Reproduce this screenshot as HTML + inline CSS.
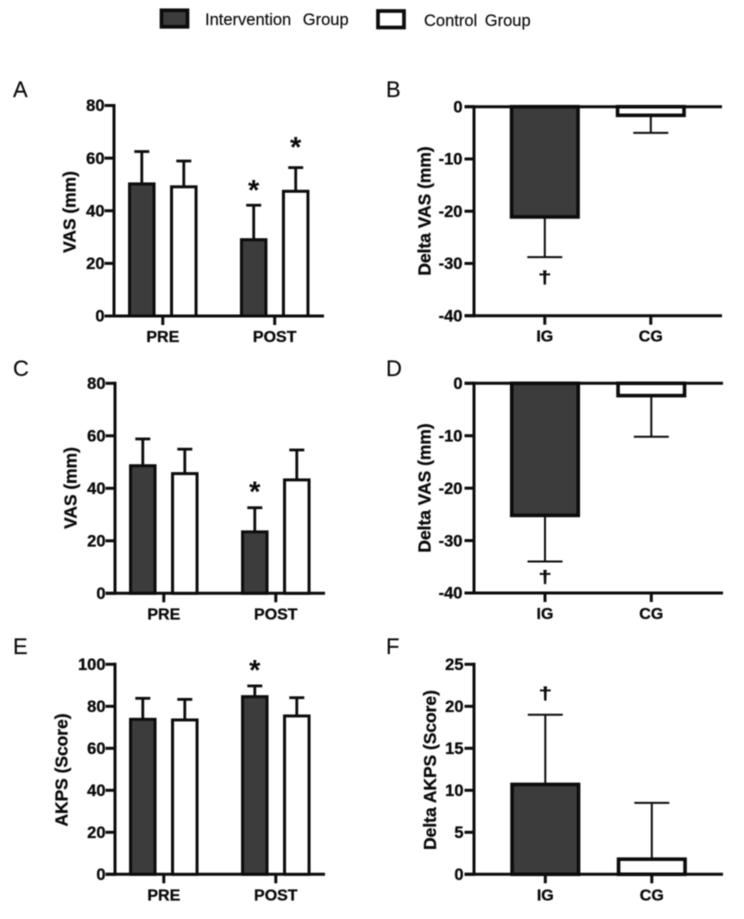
<!DOCTYPE html>
<html lang="en">
<head>
<meta charset="utf-8">
<title>VAS and AKPS outcomes by group</title>
<style>
html,body{margin:0;padding:0;background:#fff;width:744px;height:919px;overflow:hidden}
svg{display:block;filter:blur(0.4px)}
text{font-family:"Liberation Sans",Arial,sans-serif;fill:#0a0a0a}
.tick{font-size:16.5px;font-weight:700;stroke:#0a0a0a;stroke-width:.3px}
.cat{font-size:16px;font-weight:700;stroke:#0a0a0a;stroke-width:.3px}
.title{font-size:17.4px;font-weight:700;stroke:#0a0a0a;stroke-width:.3px}
.letter{font-size:22px;stroke:#0a0a0a;stroke-width:.15px}
.legend{font-size:16.5px;stroke:#0a0a0a;stroke-width:.15px}
.mark{font-size:29px;font-weight:700;text-anchor:middle}
.dagger{font-size:24px;font-weight:700;text-anchor:middle;stroke:#0a0a0a;stroke-width:.5px}
</style>
</head>
<body>
<svg id="figure" width="744" height="919" viewBox="0 0 744 919" xmlns="http://www.w3.org/2000/svg">
  <g>
    <rect x="161.5" y="10.3" width="26" height="16.5" fill="#3c3c3c" stroke="#0c0c0c" stroke-width="3.7"/>
    <text class="legend" x="205" y="25" style="word-spacing:7px">Intervention Group</text>
    <rect x="378" y="11" width="26" height="16.5" fill="#fff" stroke="#0c0c0c" stroke-width="3.7"/>
    <text class="legend" x="424" y="26" style="word-spacing:3px">Control Group</text>
  </g>
</svg>
<script>
const groupLabels = ["PRE", "POST"];
const deltaLabels = ["IG", "CG"];

const ticksA = [0, 20, 40, 60, 80];
const igMeanA = [50.2, 29];
const igErrA = [62.5, 42.1];
const cgMeanA = [49.1, 47.4];
const cgErrA = [58.9, 56.4];

const ticksB = [0, -10, -20, -30, -40];
const meanB = [-21.1, -1.65];
const errB = [-28.8, -5];

const ticksC = [0, 20, 40, 60, 80];
const igMeanC = [48.6, 23.4];
const igErrC = [58.8, 32.6];
const cgMeanC = [45.6, 43.2];
const cgErrC = [54.9, 54.6];

const ticksD = [0, -10, -20, -30, -40];
const meanD = [-25.2, -2.35];
const errD = [-34, -10.2];

const ticksE = [0, 20, 40, 60, 80, 100];
const igMeanE = [73.8, 84.6];
const igErrE = [83.8, 89.7];
const cgMeanE = [73.5, 75.4];
const cgErrE = [83.3, 84.1];

const ticksF = [0, 5, 10, 15, 20, 25];
const meanF = [10.7, 1.8];
const errF = [19, 8.5];

const NS = "http://www.w3.org/2000/svg";
const svg = document.getElementById("figure");
const INK = "#0c0c0c";
const DARK = "#3c3c3c";

function shape(parent, tag, attrs) {
  const el = document.createElementNS(NS, tag);
  for (const k in attrs) el.setAttribute(k, attrs[k]);
  parent.appendChild(el);
  return el;
}
function line(parent, x1, y1, x2, y2, w) {
  return shape(parent, "line", { x1, y1, x2, y2, stroke: INK, "stroke-width": w });
}
function label(parent, x, y, str, cls, anchor) {
  const t = shape(parent, "text", { x, y, class: cls, "text-anchor": anchor || "middle" });
  t.textContent = str;
  return t;
}

function makeAxes(g, p, ticks, cats, groupX) {
  const yScale = v => p.y0 + (v - p.vBase) / (p.vTop - p.vBase) * (p.yTop - p.y0);
  const axisLeft = p.axisX - 9.5;
  const yAxis = line(g, p.axisX, Math.min(yScale(ticks[0]), p.yTop) - 1.5, p.axisX, Math.max(yScale(ticks[ticks.length - 1]), p.y0) + 1.5, 3);
  
  
  ticks.forEach(v => {
    const y = yScale(v);
    const tickMark = line(g, axisLeft, y, p.axisX, y, 3);
    
    
    const tickText = label(g, p.axisX - p.labelGap, y + 5.7, String(v), "tick", "end");
    
    
  });
  const xAxis = line(g, axisLeft, p.y0, p.xEnd, p.y0, 3);
  
  
  cats.forEach((c, i) => {
    const x = groupX(i);
    const tickMark = line(g, x, p.y0, x, p.y0 + 9, 3);
    
    
    const tickText = label(g, x, p.y0 + 26, c, "cat");
    
    
  });
  const title = label(g, 0, 0, p.title, "title");
  title.setAttribute("transform", "translate(" + p.titleX + " " + p.titleY + ") rotate(-90)");
  
  
  const letter = label(g, p.letterX, p.letterY, p.letter, "letter", "start");
  
  
  return yScale;
}

function drawBar(g, cx, w, sw, base, mean, err, fill, capHalf, errW, yScale) {
  const yBase = yScale(base), yMean = yScale(mean), yErr = yScale(err);
  const stem = line(g, cx, yMean, cx, yErr, errW);
  
  
  const cap = line(g, cx - capHalf, yErr, cx + capHalf, yErr, errW);
  
  
  const bar = shape(g, "rect", {
    x: cx - w / 2,
    y: Math.min(yBase, yMean),
    width: w,
    height: Math.abs(yMean - yBase),
    fill: fill,
    stroke: INK,
    "stroke-width": sw
  });
  
  
}

function pairedPanel(p, ticks, igMean, igErr, cgMean, cgErr) {
  const g = shape(svg, "g", {});
  
  
  const groupX = i => p.firstX + i * p.stepX;
  const yScale = makeAxes(g, p, ticks, groupLabels, groupX);
  groupLabels.forEach((c, i) => {
    drawBar(g, groupX(i) - 21, 24.5, 3, 0, igMean[i], igErr[i], DARK, 7.5, 2.8, yScale);
    drawBar(g, groupX(i) + 21, 24.5, 3, 0, cgMean[i], cgErr[i], "#fff", 7.5, 2.8, yScale);
  });
  p.marks.forEach(m => {
    const star = label(g, groupX(m[0]) + m[1] * 21, yScale(m[2]), "*", "mark");
    
    
  });
}

function deltaPanel(p, ticks, mean, err) {
  const g = shape(svg, "g", {});
  
  
  const groupX = i => p.firstX + i * p.stepX;
  const yScale = makeAxes(g, p, ticks, deltaLabels, groupX);
  if (ticks[ticks.length - 1] < 0) {
    const zero = line(g, p.axisX - 9.5, yScale(0), p.xEnd, yScale(0), 3);
    
    
  }
  deltaLabels.forEach((c, i) => {
    drawBar(g, groupX(i), 66.5, 3.6, 0, mean[i], err[i], i === 0 ? DARK : "#fff", 17.5, 2, yScale);
  });
  const dagger = label(g, 0, 0, "\u2020", "dagger");
  dagger.setAttribute("transform", "translate(" + groupX(0) + " " + p.daggerY + ") scale(1 0.72)");
  
  
}

pairedPanel({ name: "panel-a", letter: "A", letterX: 13, letterY: 97, title: "VAS (mm)", titleX: 75.5, titleY: 212,
  axisX: 114, labelGap: 9.5, xEnd: 324, y0: 316, yTop: 105.5, vBase: 0, vTop: 80, firstX: 162.8, stepX: 111.9,
  marks: [[1, -1, 44.1], [1, 1, 60.4]] }, ticksA, igMeanA, igErrA, cgMeanA, cgErrA);

deltaPanel({ name: "panel-b", letter: "B", letterX: 386, letterY: 97, title: "Delta VAS (mm)", titleX: 430.5, titleY: 211,
  axisX: 474, labelGap: 11.5, xEnd: 722, y0: 315.7, yTop: 106.7, vBase: -40, vTop: 0, firstX: 544.8, stepX: 106, daggerY: 283.5 },
  ticksB, meanB, errB);

pairedPanel({ name: "panel-c", letter: "C", letterX: 13, letterY: 376, title: "VAS (mm)", titleX: 76.5, titleY: 488,
  axisX: 115, labelGap: 9.5, xEnd: 325, y0: 593.3, yTop: 383.3, vBase: 0, vTop: 80, firstX: 163.8, stepX: 112,
  marks: [[1, -1, 34.9]] }, ticksC, igMeanC, igErrC, cgMeanC, cgErrC);

deltaPanel({ name: "panel-d", letter: "D", letterX: 386, letterY: 376, title: "Delta VAS (mm)", titleX: 430.5, titleY: 488,
  axisX: 474, labelGap: 11.5, xEnd: 723, y0: 593, yTop: 383.3, vBase: -40, vTop: 0, firstX: 545, stepX: 106.3, daggerY: 583 },
  ticksD, meanD, errD);

pairedPanel({ name: "panel-e", letter: "E", letterX: 13, letterY: 654, title: "AKPS (Score)", titleX: 67.5, titleY: 770,
  axisX: 115, labelGap: 9.5, xEnd: 325, y0: 874.3, yTop: 664.3, vBase: 0, vTop: 100, firstX: 163.8, stepX: 112,
  marks: [[1, -1, 92.6]] }, ticksE, igMeanE, igErrE, cgMeanE, cgErrE);

deltaPanel({ name: "panel-f", letter: "F", letterX: 386, letterY: 654, title: "Delta AKPS (Score)", titleX: 436, titleY: 770,
  axisX: 474, labelGap: 10.5, xEnd: 723, y0: 874.3, yTop: 664.3, vBase: 0, vTop: 25, firstX: 545.3, stepX: 106.5, daggerY: 699.5 },
  ticksF, meanF, errF);
</script>
</body>
</html>
